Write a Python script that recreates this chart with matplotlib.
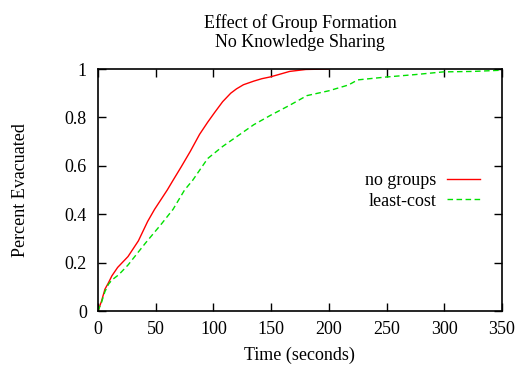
import matplotlib
matplotlib.use("Agg")
import matplotlib.pyplot as plt

# time (s) and fraction evacuated
t_nogroups = [0, 3, 6, 9, 12, 17, 26, 35, 43, 49, 60, 65, 72, 80, 88, 95,
              101, 108, 115, 120, 126, 135, 142, 149, 155, 166, 180, 200]
v_nogroups = [0, 0.04, 0.09, 0.116, 0.145, 0.18, 0.225, 0.29, 0.37, 0.42,
              0.50, 0.54, 0.595, 0.66, 0.73, 0.78, 0.82, 0.865, 0.9, 0.918,
              0.935, 0.95, 0.96, 0.967, 0.975, 0.99, 0.998, 1.0]

t_leastcost = [0, 3, 6, 9, 12, 18, 26, 41, 55, 65, 75, 82, 95, 108, 120,
               135, 150, 166, 181, 200, 217, 225, 250, 275, 299, 325, 350]
v_leastcost = [0, 0.035, 0.08, 0.11, 0.128, 0.15, 0.19, 0.28, 0.36, 0.42,
               0.50, 0.54, 0.63, 0.68, 0.72, 0.77, 0.81, 0.85, 0.89, 0.91,
               0.934, 0.955, 0.967, 0.977, 0.988, 0.99, 0.995]

x_ticks = [0, 50, 100, 150, 200, 250, 300, 350]
y_ticks = [0, 0.2, 0.4, 0.6, 0.8, 1]
y_labels = ["0", "0.2", "0.4", "0.6", "0.8", "1"]

plt.rcParams["font.family"] = ["Liberation Serif", "DejaVu Serif"]
plt.rcParams["font.size"] = 13

fig = plt.figure(figsize=(5.19, 3.65), dpi=100)
ax = fig.add_axes([98 / 519, 54 / 365, 404 / 519, 242 / 365])

ax.plot(t_nogroups, v_nogroups, color="#ff0000", lw=1, label="no groups")
ax.plot(t_leastcost, v_leastcost, color="#00e000", lw=1, ls=(0, (4, 2.5)),
        label="least-cost")

ax.set_xlim(0, 350)
ax.set_ylim(0, 1)
ax.set_xticks(x_ticks)
ax.set_yticks(y_ticks)
ax.set_yticklabels(y_labels)
ax.tick_params(direction="in", length=6, width=1, top=True, right=True)
ax.tick_params(axis="x", pad=7)
ax.tick_params(axis="y", pad=8)
for s in ax.spines.values():
    s.set_linewidth(1.2)

ax.set_xlabel("Time (seconds)", va="center")
ax.xaxis.set_label_coords(0.4975, -0.182)
ax.set_ylabel("Percent Evacuated", va="center")
ax.yaxis.set_label_coords(-0.193, 0.5)

# two-line title, placed by baseline
fig.text(300 / 519, 1 - 28 / 365, "Effect of Group Formation",
         ha="center", va="baseline")
fig.text(300 / 519, 1 - 47 / 365, "No Knowledge Sharing",
         ha="center", va="baseline")

ax.legend(loc="center right", bbox_to_anchor=(0.945, 0.496), frameon=False,
          markerfirst=False, borderpad=0, borderaxespad=0, handlelength=1.8,
          handletextpad=0.6, labelspacing=0.2)

fig.savefig("out.png", dpi=100)
